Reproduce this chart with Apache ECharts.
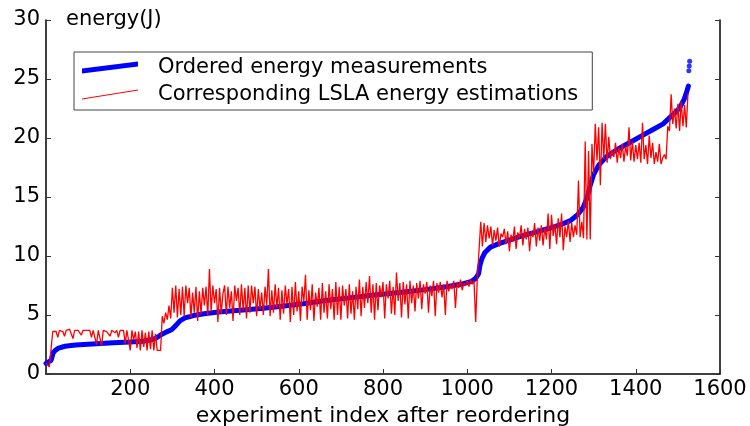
<!DOCTYPE html>
<html>
<head>
<meta charset="utf-8">
<script src="https://cdn.jsdelivr.net/npm/echarts@6/dist/echarts.min.js"></script>
<style>
html, body { margin: 0; padding: 0; background: #fff; }
#chart { width: 750px; height: 426px; }
</style>
</head>
<body>
<div id="chart"></div>
<script>
// ordered measurements (index, energy)
var measured = [[0,0.9],[5,1.0],[12,1.15],[15,1.3],[17,1.8],[22,2.0],[30,2.2],[45,2.35],[70,2.45],[110,2.55],
  [160,2.65],[200,2.72],[230,2.78],[250,2.9],[262,3.05],[272,3.3],[285,3.55],[298,3.75],[308,4.1],[318,4.5],
  [330,4.75],[350,4.95],[375,5.1],[410,5.25],[460,5.4],[510,5.55],[560,5.75],[610,5.95],[660,6.2],[720,6.45],
  [780,6.7],[840,6.9],[900,7.15],[950,7.4],[985,7.6],[1010,7.85],[1020,8.1],[1027,8.5],[1030,9.2],[1035,9.8],
  [1042,10.3],[1055,10.75],[1075,11.05],[1100,11.35],[1130,11.7],[1160,12.0],[1195,12.35],[1225,12.7],[1245,13.0],[1262,13.5],
  [1275,14.1],[1285,15.0],[1292,16.0],[1300,16.9],[1312,17.7],[1330,18.4],[1355,19.0],[1385,19.6],[1415,20.2],[1440,20.7],
  [1465,21.2],[1480,21.7],[1495,22.2],[1505,22.6],[1515,23.3],[1520,23.8],[1525,24.4]];
var measuredTop = [[1526,25.7],[1527,26.1],[1528,26.5]];

// LSLA estimations, one value every redStep experiments
var redStep = 4;
var estimated = [
  0.9, 0.8, 0.6, 0.6, 3.6,
  3.7, 3.6, 3.1, 3.7, 3.7, 3.6, 3.2, 3.7, 3.7, 3.8,
  3.7, 3.0, 3.7, 3.6, 3.7, 3.7, 3.3, 3.7, 3.8, 3.7,
  3.6, 3.7, 3.1, 3.7, 3.7, 2.5, 3.7, 3.6, 2.4, 3.7,
  3.7, 3.6, 3.7, 3.2, 3.7, 3.7, 3.5, 3.7, 3.1, 3.7,
  3.6, 3.7, 2.6, 3.7, 3.6, 2.0, 3.7, 2.9, 3.6, 2.2,
  3.6, 2.0, 3.7, 2.3, 3.5, 2.0, 3.6, 2.1, 3.7,
  2.0, 3.4, 2.0, 2.1, 2.0, 4.9,
  4.3, 5.2, 4.6, 5.8, 4.7, 7.3, 5.2, 7.5, 4.8, 7.2,
  5.0, 7.4, 4.9, 7.5, 6.0, 7.3, 4.8, 6.9, 5.2, 7.4,
  4.5, 7.0, 5.1, 7.3, 5.8, 7.4, 4.9, 8.9, 5.3, 7.5,
  6.0, 7.2, 4.4, 7.3, 5.1, 6.8, 7.5, 5.0, 7.4, 5.6,
  7.0, 4.5, 7.5, 6.2, 7.3, 5.0, 7.6, 5.4, 7.3, 4.7,
  7.5, 5.2, 7.5, 6.0, 7.4, 4.9, 7.2, 5.5, 6.9, 5.0,
  7.4, 5.8, 8.9, 4.9, 7.1, 5.2, 7.6, 5.6, 7.3, 4.6,
  7.1, 5.1, 7.5, 5.9, 7.2, 4.4, 7.4, 5.0, 7.8, 5.3,
  7.0, 4.5, 7.4, 6.1, 8.4, 4.6, 7.1, 5.4, 7.6, 4.5,
  6.9, 5.7, 7.3, 4.6, 7.7, 5.2, 7.0, 4.7, 7.6, 5.5,
  7.2, 4.6, 7.8, 5.0, 7.4, 4.6, 7.5, 5.8, 7.2, 4.7,
  7.6, 5.1, 7.0, 4.6, 7.4, 5.5, 8.0, 4.9, 7.4, 5.6,
  7.8, 6.0, 8.3, 5.2, 7.6, 4.6, 7.7, 5.4, 7.5, 6.5,
  7.8, 4.7, 7.6, 6.4, 7.9, 5.1, 7.4, 5.0, 8.6, 6.2,
  7.7, 4.8, 7.8, 5.9, 7.6, 4.7, 7.9, 6.0, 7.5, 5.3,
  7.7, 6.4, 7.9, 5.5, 7.6, 6.8, 7.8, 5.2, 7.5, 6.6,
  7.9, 4.9, 7.7, 6.9, 7.8, 6.5, 7.6, 5.0, 7.9, 7.0,
  7.6, 7.2, 7.9, 5.6, 7.8, 7.3, 8.0, 7.1, 7.7, 7.5,
  7.9, 7.4, 8.0, 7.6, 7.9,
  4.4, 8.2, 10.5,
  12.9, 10.8, 12.8, 11.2, 12.6, 11.5, 12.5, 10.9, 12.2, 11.3,
  12.4, 10.8, 11.9, 11.6, 12.3, 11.0, 12.1, 10.4, 11.8, 11.2,
  12.5, 10.6, 12.0, 11.5, 12.6, 10.9, 12.3, 11.4, 12.4, 10.4,
  12.1, 11.6, 12.8, 10.8, 12.4, 11.3, 12.6, 10.9, 12.4, 11.4,
  13.6, 10.6, 13.5, 11.7, 12.7, 11.0, 13.2, 11.6, 13.6, 10.5,
  12.5, 11.6, 13.0, 11.2, 12.8, 11.6, 12.6, 11.8, 16.4, 11.6,
  12.9, 11.5, 19.7, 11.4, 18.9, 11.4, 19.5, 17.0, 21.2, 18.1,
  20.9, 16.0, 21.3, 18.2, 21.2, 17.9, 20.1, 18.2, 19.0, 18.4,
  19.6, 17.9, 19.2, 18.3, 19.5, 18.0, 19.3, 18.5, 20.9, 18.1,
  19.7, 18.0, 19.4, 18.2, 19.6, 17.9, 21.3, 18.2, 19.4, 17.8,
  20.2, 18.3, 19.6, 17.8, 18.8, 18.0, 19.5, 17.8, 18.3, 18.6,
  18.2, 21.0, 20.6, 23.7, 21.2, 22.5, 20.8, 22.9, 20.6, 23.1,
  21.0, 22.8, 20.9, 23.8
];

var xTicks = [200, 400, 600, 800, 1000, 1200, 1400, 1600];
var yTicks = [0, 5, 10, 15, 20, 25, 30];
var nameBlue = 'Ordered energy measurements';
var nameRed = 'Corresponding LSLA energy estimations';

var estimatedPts = estimated.map(function (v, i) { return [i * redStep, v]; });

var font = 'DejaVu Sans';
var chart = echarts.init(document.getElementById('chart'));
chart.setOption({
  animation: false,
  backgroundColor: '#fff',
  title: {
    text: 'energy(J)', left: 61, top: 4,
    textStyle: { fontFamily: font, fontSize: 21, fontWeight: 'normal', color: '#000' }
  },
  grid: { left: 46, right: 30, top: 20, bottom: 52, containLabel: false, outerBoundsMode: 'none' },
  legend: {
    orient: 'vertical', left: 74, top: 52,
    padding: [5, 14, 5, 8], itemGap: 6,
    borderColor: '#444', borderWidth: 1, borderRadius: 0,
    itemWidth: 56, itemHeight: 12,
    textStyle: { fontFamily: font, fontSize: 21, color: '#000', padding: [0, 0, 0, 15] },
    data: [
      { name: nameBlue, icon: 'path://M0,7L56,0L56,5L0,12Z', itemStyle: { color: '#0000ff' } },
      { name: nameRed, icon: 'path://M0,11L56,2L56,3L0,12Z', itemStyle: { color: '#ff0000' } }
    ]
  },
  xAxis: {
    type: 'value', min: 0, max: 1600, interval: 200,
    name: 'experiment index after reordering', nameLocation: 'middle', nameGap: 28,
    nameTextStyle: { fontFamily: font, fontSize: 22, color: '#000' },
    axisLine: { lineStyle: { color: '#000', width: 1.5 } },
    axisTick: { inside: true, length: 5, lineStyle: { color: '#333' } },
    axisLabel: {
      fontFamily: font, fontSize: 21, color: '#000', margin: 5,
      formatter: function (v) { return xTicks.indexOf(v) >= 0 ? String(v) : ''; }
    },
    splitLine: { show: false }
  },
  yAxis: [{
    type: 'value', min: 0, max: 30, interval: 5,
    axisLine: { show: true, lineStyle: { color: '#000', width: 1.5 } },
    axisTick: { show: true, inside: true, length: 5, lineStyle: { color: '#333' } },
    axisLabel: {
      fontFamily: font, fontSize: 21, color: '#000', margin: 6,
      formatter: function (v) { return yTicks.indexOf(v) >= 0 ? String(v) : ''; }
    },
    splitLine: { show: false }
  }, {
    type: 'value', min: 0, max: 30, interval: 5, position: 'right',
    axisLine: { show: true, lineStyle: { color: '#000', width: 1.5 } },
    axisTick: { show: true, inside: true, length: 5, lineStyle: { color: '#333' } },
    axisLabel: { show: false },
    splitLine: { show: false }
  }],
  series: [{
    name: nameBlue, type: 'line', data: measured, showSymbol: false,
    lineStyle: { color: '#0000ff', width: 5, cap: 'round' },
    itemStyle: { color: '#0000ff' }
  }, {
    name: 'top', type: 'scatter', data: measuredTop, symbolSize: 5,
    itemStyle: { color: '#0000ff' }
  }, {
    name: nameRed, type: 'line', data: estimatedPts, showSymbol: false,
    lineStyle: { color: '#ff0000', width: 1.3 },
    itemStyle: { color: '#ff0000' }
  }]
});
</script>
</body>
</html>
